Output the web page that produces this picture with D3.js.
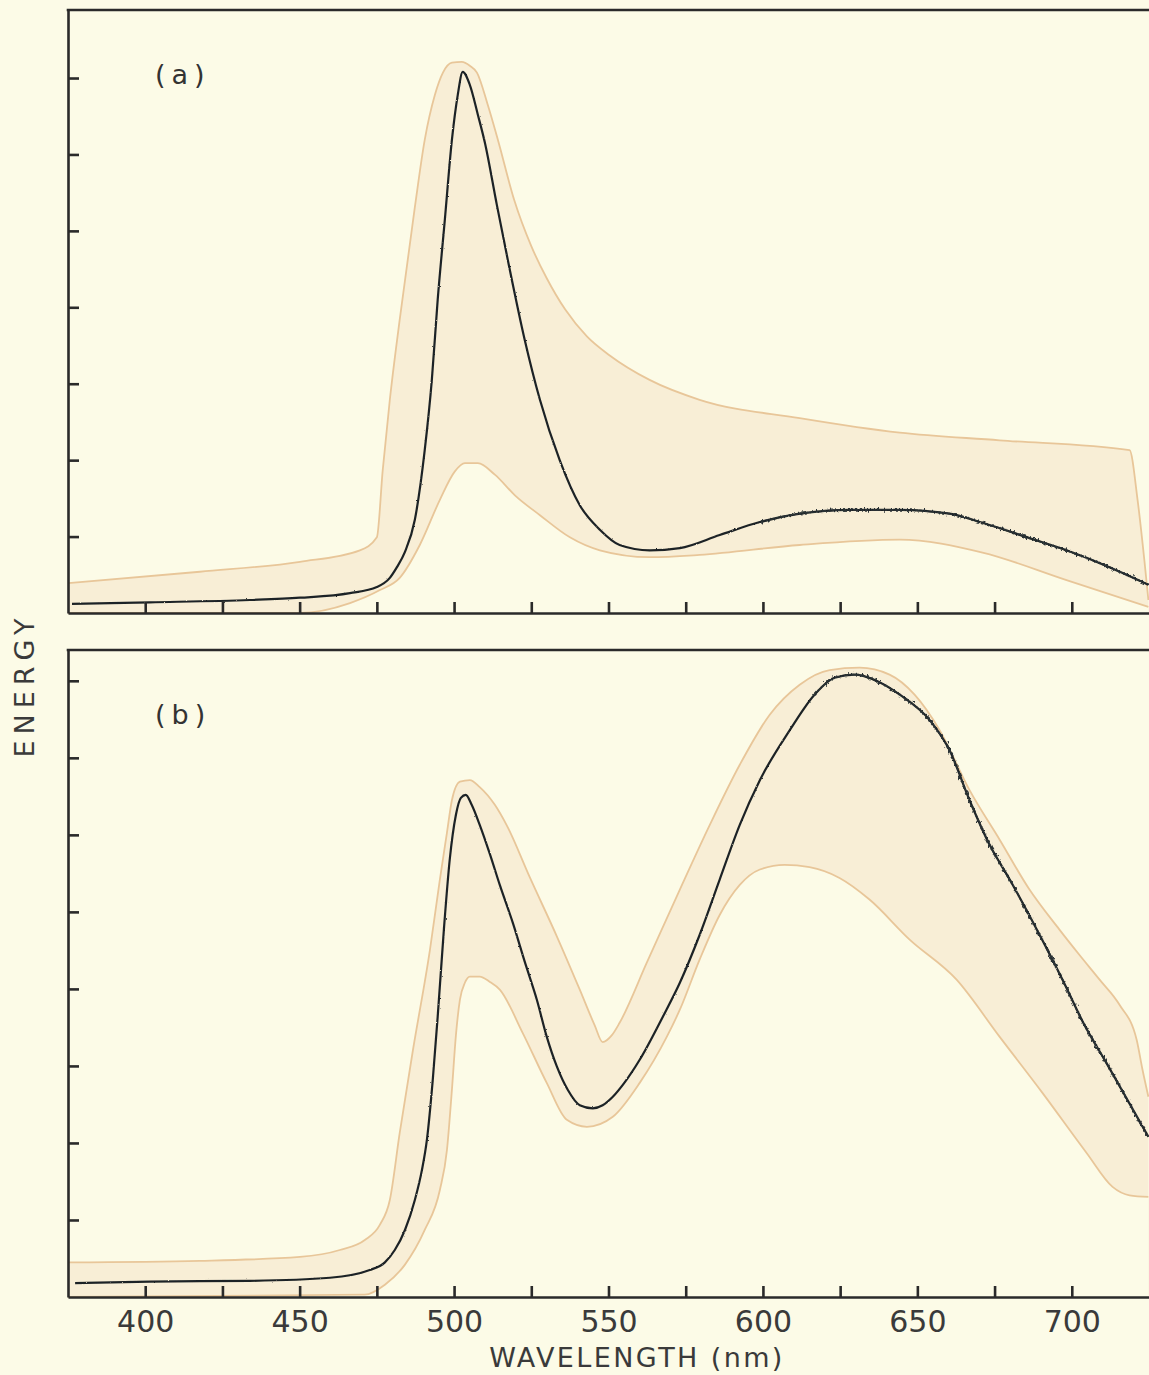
<!DOCTYPE html>
<html><head><meta charset="utf-8">
<script src="https://cdn.jsdelivr.net/npm/d3@7"></script>
<style>html,body{margin:0;padding:0;background:#fcfbe7;} svg{display:block}</style>
</head><body><svg id="chart" width="1149" height="1375"></svg>
<script>
// ---------- data (wavelength nm, energy in tick units) ----------
const wavelengthTicks = [400,425,450,475,500,525,550,575,600,625,650,675,700];
const wavelengthLabels = [400,450,500,550,600,650,700];
const energyTicksA = [1,2,3,4,5,6,7];
const energyTicksB = [1,2,3,4,5,6,7,8];
const panelLabels = ["(a)","(b)"];
const xTitle = "WAVELENGTH (nm)";
const yTitle = "ENERGY";

const blackA = [[376.3,0.12],[401.5,0.14],[433.9,0.17],[450.1,0.20],[466.3,0.26],[475.0,0.34],[479.2,0.46],[481.5,0.60],[484.1,0.80],[487.3,1.22],[490.5,2.13],[492.8,3.05],[494.7,4.10],[497.0,5.14],[499.3,6.19],[501.2,6.78],[502.8,7.08],[505.1,6.91],[507.7,6.52],[510.0,6.15],[513.8,5.35],[517.4,4.62],[522.9,3.57],[527.8,2.79],[534.2,2.00],[540.7,1.41],[547.2,1.09],[553.6,0.89],[563.3,0.82],[573.1,0.85],[586.0,1.02],[599.0,1.19],[611.9,1.30],[628.1,1.35],[644.3,1.35],[660.4,1.30],[671.1,1.18],[686.3,0.98],[698.3,0.82],[712.2,0.60],[724.8,0.37]];
const upperA = [[375.0,0.39],[417.7,0.54],[450.1,0.67],[469.5,0.82],[475.0,0.99],[476.9,1.87],[479.2,2.79],[482.4,3.84],[487.3,5.31],[490.5,6.19],[493.8,6.78],[496.4,7.07],[499.3,7.20],[502.5,7.21],[505.1,7.16],[507.4,7.07],[510.9,6.65],[514.2,6.19],[519.5,5.40],[525.0,4.80],[530.0,4.38],[536.0,3.97],[543.0,3.62],[550.4,3.37],[563.3,3.05],[579.5,2.79],[611.9,2.55],[644.3,2.36],[676.6,2.26],[718.7,2.13],[721.3,1.48],[723.5,0.69],[724.8,0.17]];
const lowerA = [[375.0,0],[450.1,0],[466.3,0.13],[476.0,0.30],[482.4,0.46],[488.9,0.89],[495.4,1.48],[500.2,1.85],[503.5,1.96],[507.7,1.96],[513.2,1.81],[519.7,1.54],[527.8,1.28],[537.5,0.99],[547.2,0.82],[563.3,0.73],[579.5,0.76],[611.9,0.89],[644.3,0.96],[671.1,0.79],[698.3,0.43],[724.8,0.08]];

const blackB = [[377.3,0.18],[401.5,0.20],[433.9,0.21],[459.8,0.25],[472.7,0.35],[477.6,0.45],[480.8,0.61],[484.1,0.87],[487.3,1.26],[489.6,1.65],[491.2,2.04],[493.1,2.82],[494.7,3.64],[496.7,4.77],[498.6,5.68],[500.6,6.26],[502.2,6.48],[503.8,6.52],[505.7,6.39],[508.3,6.13],[511.6,5.75],[514.8,5.35],[519.0,4.86],[522.9,4.35],[526.8,3.86],[530.0,3.38],[533.3,2.99],[536.8,2.69],[540.7,2.49],[544.9,2.45],[548.1,2.49],[551.4,2.60],[555.3,2.79],[560.1,3.08],[567.6,3.64],[573.1,4.08],[579.5,4.70],[586.0,5.42],[592.5,6.13],[599.0,6.71],[608.7,7.36],[616.7,7.82],[623.2,8.04],[629.7,8.08],[636.2,8.01],[644.3,7.82],[654.0,7.49],[660.4,7.10],[666.9,6.45],[673.4,5.87],[679.9,5.42],[689.6,4.70],[697.0,4.12],[704.1,3.53],[711.2,3.04],[718.0,2.56],[724.8,2.08]];
const upperB = [[375.0,0.45],[417.7,0.47],[450.1,0.52],[463.0,0.61],[471.1,0.74],[476.0,0.94],[479.2,1.26],[482.4,2.13],[486.7,3.21],[492.2,4.51],[495.4,5.42],[497.7,6.03],[499.3,6.45],[501.9,6.69],[505.1,6.71],[508.3,6.62],[513.2,6.39],[517.1,6.12],[524.5,5.45],[533.3,4.68],[540.7,3.99],[545.5,3.53],[548.1,3.31],[551.1,3.40],[553.6,3.56],[562.4,4.34],[573.1,5.29],[582.8,6.13],[592.5,6.91],[602.2,7.56],[611.9,7.95],[621.6,8.14],[631.3,8.17],[641.0,8.08],[649.1,7.82],[657.2,7.36],[666.9,6.58],[676.6,5.94],[686.3,5.29],[696.0,4.77],[702.5,4.44],[709.0,4.12],[715.5,3.79],[721.0,3.34],[722.9,2.95],[724.8,2.60]];
const lowerB = [[375.0,0],[471.1,0.03],[477.6,0.16],[484.1,0.42],[490.5,0.87],[495.4,1.39],[497.7,1.91],[499.3,2.69],[500.6,3.40],[501.9,3.86],[503.5,4.08],[505.1,4.16],[508.3,4.16],[511.6,4.09],[514.8,3.99],[522.2,3.43],[530.0,2.78],[536.5,2.30],[543.0,2.21],[551.4,2.34],[560.1,2.78],[568.9,3.38],[573.1,3.73],[579.5,4.38],[586.0,4.96],[592.5,5.35],[599.0,5.55],[607.0,5.61],[615.1,5.58],[624.8,5.44],[634.5,5.16],[647.5,4.64],[662.7,4.12],[676.6,3.38],[690.5,2.65],[704.8,1.87],[713.2,1.43],[718.7,1.32],[724.8,1.30]];
const noisyFrom = [595, 612]; // wavelength where the trace gets visibly noisy, panels a and b

// ---------- layout ----------
const W = 1149, H = 1375;
const FONT = "'DejaVu Sans', 'Liberation Sans', sans-serif";
const INK = "#2a2a2a";
const BAND = "#f8eed6";
const EDGE = "#e8c699";

const svg = d3.select("#chart");
svg.append("rect").attr("width", W).attr("height", H).attr("fill", "#fcfbe7");
const defs = svg.append("defs");

function jitterFilter(id, freq, scale, seed) {
  const f = defs.append("filter").attr("id", id).attr("filterUnits", "userSpaceOnUse")
    .attr("x", 0).attr("y", 0).attr("width", W).attr("height", H);
  f.append("feTurbulence").attr("type", "fractalNoise").attr("baseFrequency", freq)
    .attr("numOctaves", 1).attr("seed", seed).attr("result", "n");
  f.append("feDisplacementMap").attr("in", "SourceGraphic").attr("in2", "n")
    .attr("scale", scale).attr("xChannelSelector", "R").attr("yChannelSelector", "G");
}
jitterFilter("jit-soft", "0.5 0.5", 2, 2);
jitterFilter("jit-hard", "0.5 0.3", 7, 7);

const x = d3.scaleLinear().domain([375, 725]).range([68, 1149]);
const yA = d3.scaleLinear().domain([0, 7.89]).range([613, 10]);
const yB = d3.scaleLinear().domain([0, 8.40]).range([1297, 650]);

function drawPanel(id, y, black, upper, lower, eTicks, label, showLabels, noisy) {
  const g = svg.append("g").attr("class", "panel-" + id);
  const line = d3.line().x(d => x(d[0])).y(d => y(d[1])).curve(d3.curveMonotoneX);
  const under = d3.area().x(d => x(d[0])).y0(y(0)).y1(d => y(d[1])).curve(d3.curveMonotoneX);

  const mask = defs.append("mask").attr("id", "band-" + id)
    .attr("maskUnits", "userSpaceOnUse").attr("x", 0).attr("y", 0).attr("width", W).attr("height", H);
  mask.append("path").attr("d", under(upper)).attr("fill", "white");
  mask.append("path").attr("d", under(lower)).attr("fill", "black");

  g.append("rect").attr("x", x(375)).attr("y", y.range()[1]).attr("width", x(725) - x(375))
    .attr("height", y.range()[0] - y.range()[1]).attr("fill", BAND).attr("mask", "url(#band-" + id + ")");

  g.append("path").attr("d", line(upper)).attr("fill", "none").attr("stroke", EDGE).attr("stroke-width", 1.8);
  g.append("path").attr("d", line(lower)).attr("fill", "none").attr("stroke", EDGE).attr("stroke-width", 1.8);

  g.append("path").attr("d", line(black)).attr("fill", "none").attr("stroke", "#1e2426")
    .attr("stroke-width", 2.2).attr("stroke-linejoin", "round").attr("filter", "url(#jit-soft)");
  g.append("path").attr("d", line(black.filter(d => d[0] >= noisy))).attr("fill", "none").attr("stroke", "#2b3335")
    .attr("stroke-width", 1.8).attr("stroke-linejoin", "round").attr("filter", "url(#jit-hard)");

  const left = d3.axisLeft(y).tickValues(eTicks).tickSize(-11).tickSizeOuter(0).tickFormat("");
  const gl = g.append("g").attr("transform", `translate(${x(375)},0)`).call(left);
  const bottom = d3.axisBottom(x).tickValues(wavelengthTicks).tickSize(-11).tickSizeOuter(0).tickPadding(14)
    .tickFormat(d => showLabels && wavelengthLabels.includes(d) ? String(d) : "");
  const gb = g.append("g").attr("transform", `translate(0,${y(0)})`).call(bottom);
  [gl, gb].forEach(a => {
    a.selectAll("path.domain").attr("stroke", INK).attr("stroke-width", 2.6);
    a.selectAll(".tick line").attr("stroke", INK).attr("stroke-width", 2.6);
  });
  gb.selectAll(".tick text").attr("font-family", FONT).attr("font-size", 30).attr("fill", "#3a3a3a");
  g.append("line").attr("x1", x(375) - 1.3).attr("x2", W).attr("y1", y.range()[1]).attr("y2", y.range()[1])
    .attr("stroke", INK).attr("stroke-width", 2.6);
  g.append("text").attr("x", 155).attr("y", y.range()[1] + 74).attr("font-family", FONT)
    .attr("font-size", 27).attr("letter-spacing", 6).attr("fill", "#333").text(label);
}

drawPanel("a", yA, blackA, upperA, lowerA, energyTicksA, panelLabels[0], false, noisyFrom[0]);
drawPanel("b", yB, blackB, upperB, lowerB, energyTicksB, panelLabels[1], true, noisyFrom[1]);

svg.append("text").attr("x", 637).attr("y", 1367).attr("text-anchor", "middle")
  .attr("font-family", FONT).attr("font-size", 27).attr("letter-spacing", 2.4).attr("fill", "#3a3a3a").text(xTitle);
svg.append("text").attr("transform", "translate(34,685) rotate(-90)").attr("text-anchor", "middle")
  .attr("font-family", FONT).attr("font-size", 27).attr("letter-spacing", 6).attr("fill", "#3a3a3a").text(yTitle);
</script></body></html>
